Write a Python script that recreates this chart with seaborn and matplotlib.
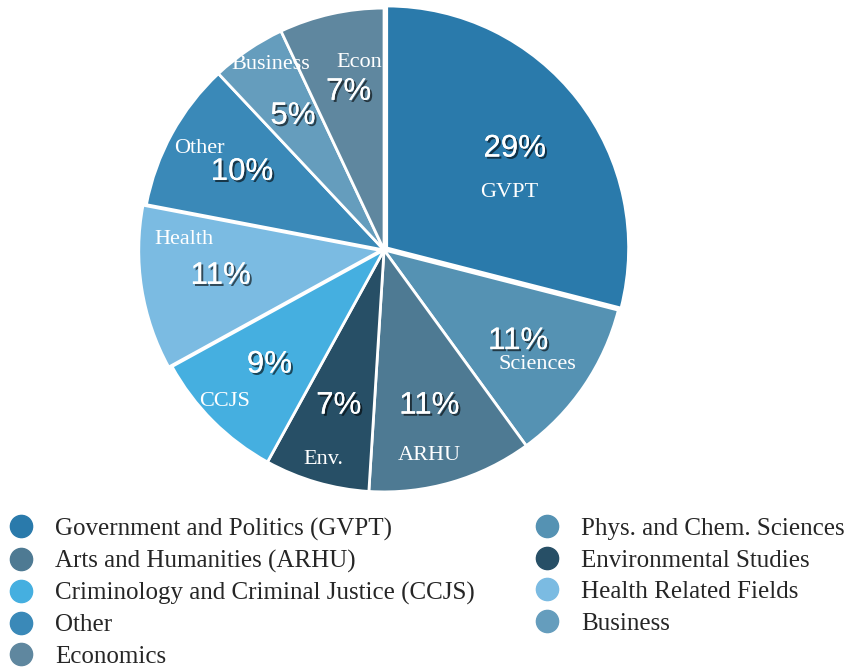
import matplotlib
matplotlib.use("Agg")
import matplotlib.pyplot as plt
import matplotlib.patheffects as pe
from matplotlib.lines import Line2D
import seaborn as sns
import numpy as np

# данные
short_names = ["GVPT", "Sciences", "ARHU", "Env.", "CCJS", "Health", "Other", "Business", "Econ"]
full_names = ["Government and Politics (GVPT)", "Phys. and Chem. Sciences", "Arts and Humanities (ARHU)",
              "Environmental Studies", "Criminology and Criminal Justice (CCJS)", "Health Related Fields",
              "Other", "Business", "Economics"]
shares = [29, 11, 11, 7, 9, 11, 10, 5, 7]
slice_colors = ["#2a7aab", "#5592b3", "#4e7a93", "#274f66", "#45afe0",
                "#7bbbe2", "#3a89b8", "#659dbd", "#5f879f"]

# смещение подписей названий внутри секторов (сдвиг угла, радиус)
name_angle_shift = [-13, -2.5, -3.7, 0, -1.6, -12, 0, -2.8, -5]
name_radius = [0.57, 0.79, 0.87, 0.90, 0.91, 0.83, 0.87, 0.90, 0.78]
explode = [0.014, 0, 0, 0, 0, 0.014, 0, 0, 0]

sns.set_theme(style="white")
palette = sns.color_palette(slice_colors)

fig = plt.figure(figsize=(8.47, 6.68), dpi=100)
ax = fig.add_axes([0.1535, 0.2455, 0.5998, 0.7605])

shadow = [pe.withSimplePatchShadow(offset=(1.5, -1.5), shadow_rgbFace="black", alpha=0.6), pe.Normal()]

wedges, texts, autotexts = ax.pie(
    shares, colors=palette, startangle=90, counterclock=False, explode=explode,
    autopct="%d%%", pctdistance=0.67,
    wedgeprops=dict(edgecolor="white", linewidth=2),
    textprops=dict(color="white", fontsize=22.5, family="Liberation Sans"))
for t in autotexts:
    t.set_path_effects(shadow)

# подписи названий
total = sum(shares)
start = 90.0
for i, (name, val) in enumerate(zip(short_names, shares)):
    span = val / total * 360
    mid = start - span / 2
    start -= span
    ang = np.deg2rad(mid + name_angle_shift[i])
    r = name_radius[i]
    ax.text(r * np.cos(ang), r * np.sin(ang), name, color="white", fontsize=16,
            family="Liberation Serif", ha="center", va="center")

ax.set_xlim(-1.05, 1.05)
ax.set_ylim(-1.05, 1.05)
ax.set_aspect("equal")
ax.axis("off")
for w in wedges:
    w.set_clip_on(False)

# легенда: по столбцам
order = [0, 2, 4, 6, 8, 1, 3, 5, 7]
handles = [Line2D([], [], marker="o", linestyle="", markersize=16,
                  markerfacecolor=palette[i], markeredgecolor=palette[i]) for i in order]
labels = [full_names[i] for i in order]
fig.legend(handles, labels, ncol=2, loc="upper left", bbox_to_anchor=(-0.019, 0.259),
           frameon=False, prop=dict(family="Liberation Serif", size=18),
           handletextpad=0.74, columnspacing=2.31, labelspacing=0.36, handlelength=1.2)

fig.savefig("out.png", dpi=100)
